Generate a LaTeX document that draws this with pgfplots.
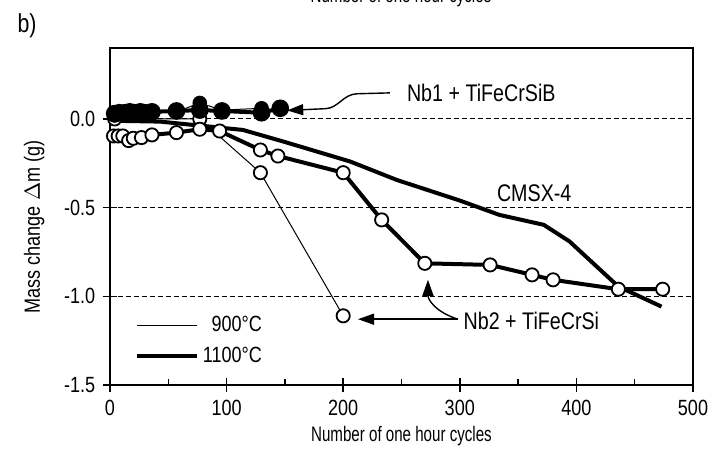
\documentclass[border=0pt]{standalone}
\usepackage{fontspec}
\setmainfont{Liberation Sans}[FakeStretch=0.82]
\newfontfamily\narrowfont{Liberation Sans}[FakeStretch=0.72]
\usepackage{pgfplots}
\pgfplotsset{compat=1.18}
\usetikzlibrary{arrows.meta}
\begin{document}
\fontsize{11}{13}\selectfont
\begin{tikzpicture}
\begin{axis}[
  name=ax, at={(0,0)}, anchor=south west,
  width=291.5pt, height=168.5pt, scale only axis,
  xmin=0, xmax=500, ymin=-1.5, ymax=0.4,
  xtick={0,100,...,500}, minor xtick={50,150,...,450},
  ytick={-1.5,-1,-0.5,0},
  tick pos=left,
  /pgf/number format/assume math mode=true,
  yticklabel style={/pgf/number format/.cd, fixed, fixed zerofill, precision=1},
  xticklabel style={/pgf/number format/.cd, fixed, precision=0},
  tick label style={font=\fontsize{11}{13}\selectfont},
  axis line style={line width=0.75pt},
  tick style={line width=0.75pt, black},
  tick align=center,
  major tick length=7pt,
  minor tick length=3pt,
  minor tick style={yshift=1.5pt},
  ymajorgrids, grid style={dashed, black, line width=0.5pt, dash pattern=on 2.5pt off 1.5pt},
  clip=false,
  xlabel={Number of one hour cycles},
  ylabel={Mass change $\Delta$m (g)},
  xlabel style={at={(axis description cs:0.5,-0.151)}, anchor=center, font=\narrowfont\fontsize{10.5}{12}\selectfont},
  ylabel style={at={(axis description cs:-0.13,0.469)}, anchor=center, font=\fontsize{11}{13}\selectfont},
  legend style={at={(axis description cs:0.042,0.217)}, anchor=north west, draw=none, fill=none,
     font=\fontsize{11}{13}\selectfont, row sep=2pt, inner sep=0pt},
  legend cell align=right,
  legend image code/.code={\draw[#1] (0pt,0pt) -- (22.5pt,0pt); \path (0pt,0pt) -- (30pt,0pt);},
]
\addlegendimage{black, line width=0.5pt}
\addlegendentry{900°C}
\addlegendimage{black, line width=2pt}
\addlegendentry{1100°C}

% Nb2 + TiFeCrSi, 900 C (thin, open)
\addplot[forget plot, black, line width=0.5pt, mark=*, mark size=3.3pt,
  mark options={fill=white, line width=0.9pt}] coordinates {
  (4,0.0) (77,0.0) (129,-0.303) (200,-1.11)};
% CMSX-4, 1100 C (thick, no marks)
\addplot[forget plot, black, line width=2pt, no marks] coordinates {
  (0,-0.01) (43,-0.015) (114,-0.062) (149,-0.128) (206,-0.24) (246,-0.344)
  (300,-0.46) (334,-0.541) (372,-0.597) (394,-0.69) (436,-0.945) (473,-1.058)};
% Nb2 + TiFeCrSi, 1100 C (thick, open)
\addplot[forget plot, black, line width=2pt, mark=*, mark size=3.3pt,
  mark options={fill=white, line width=0.9pt}] coordinates {
  (3,-0.096) (7,-0.096) (11,-0.096) (16,-0.122) (20,-0.109) (27,-0.105)
  (36,-0.09) (57,-0.077) (77,-0.058) (94,-0.068) (129,-0.175) (144,-0.209)
  (200,-0.303) (233,-0.569) (270,-0.814) (326,-0.823) (362,-0.879)
  (380,-0.907) (436,-0.96) (474,-0.96)};
% Nb1 + TiFeCrSiB, 900 C (thin, filled)
\addplot[forget plot, black, line width=0.5pt, mark=*, mark size=3.4pt,
  mark options={fill=black}] coordinates {
  (4,0.02) (8,0.04) (13,0.04) (17,0.045) (21,0.04) (26,0.045) (30,0.04)
  (36,0.045) (57,0.04) (77,0.09) (96,0.05) (130,0.06)};
% Nb1 + TiFeCrSiB, 1100 C (thick, filled)
\addplot[forget plot, black, line width=2pt, mark=*, mark size=3.4pt,
  mark options={fill=black}] coordinates {
  (4,0.03) (8,0.035) (13,0.035) (17,0.04) (21,0.035) (26,0.04) (30,0.035)
  (36,0.04) (57,0.045) (77,0.05) (96,0.045) (130,0.035) (146,0.06)};

% annotations
\node[anchor=west, font=\fontsize{12}{14}\selectfont, inner sep=0pt] at (axis cs:254.4,0.147) {Nb1 + TiFeCrSiB};
\node[anchor=west, font=\fontsize{12}{14}\selectfont, inner sep=0pt] at (axis cs:331.6,-0.417) {CMSX-4};
\node[anchor=west, font=\fontsize{12}{14}\selectfont, inner sep=0pt] at (axis cs:303,-1.14) {Nb2 + TiFeCrSi};
\draw[line width=0.7pt, -{Triangle[length=8pt,width=5.5pt]}]
  (axis cs:240,0.147) -- (axis cs:212,0.142) .. controls (axis cs:200,0.14) and (axis cs:196,0.062) .. (axis cs:185,0.058) -- (axis cs:152,0.048);
\draw[line width=0.7pt, -{Triangle[length=8pt,width=5.5pt]}]
  (axis cs:298.4,-1.129) -- (axis cs:212.7,-1.129);
\draw[line width=0.7pt, -{Triangle[length=8pt,width=5.5pt]}]
  (axis cs:298.4,-1.129) .. controls (axis cs:279.6,-1.09) and (axis cs:272.7,-1.02) .. (axis cs:272.7,-0.907);
\end{axis}
\node[font=\fontsize{13}{15}\selectfont] at (-41.5pt,179.75pt) {b)};
\node[anchor=base, font=\narrowfont\fontsize{10.5}{12}\selectfont] at (145.5pt,191pt) {Number of one hour cycles};
\pgfresetboundingbox
\path[use as bounding box] (-55pt,-33pt) rectangle (304.5pt,192.5pt);
\end{tikzpicture}
\end{document}
